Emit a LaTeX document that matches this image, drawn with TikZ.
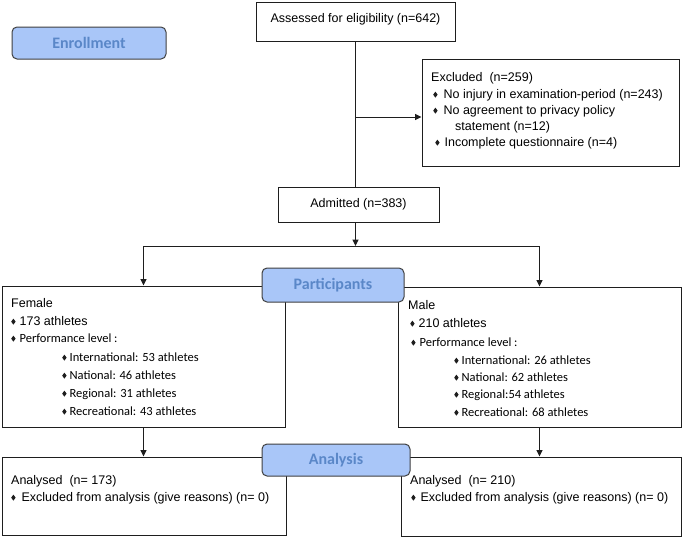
\documentclass[tikz,border=0pt]{standalone}
\usepackage{fontspec}
\setmainfont{Liberation Sans}
\newfontfamily\calfont{Carlito}
\usetikzlibrary{arrows.meta}
\definecolor{lblfill}{HTML}{A9C6F8}
\definecolor{lbltext}{HTML}{5A87C8}
\definecolor{lineclr}{HTML}{1E1E1E}
\newcommand\bul{\tikz[baseline=-3.6pt]\fill[lineclr] (0,0)--(2.2pt,3pt)--(4.4pt,0)--(2.2pt,-3pt)--cycle;}
\begin{document}
\begin{tikzpicture}[x=1pt,y=-1pt,
  box/.style={draw=lineclr, line width=1pt, rectangle, inner sep=0pt, fill=white},
  lbl/.style={rounded corners=5pt, draw=black!75, line width=1pt, fill=lblfill, text=lbltext,
    inner sep=0pt, font=\calfont\bfseries\fontsize{16}{18}\selectfont},
  txt/.style={anchor=west, inner sep=0pt, text height=9pt, text depth=2.5pt,
    font=\fontsize{12.5}{15}\selectfont},
  ctxt/.style={txt, font=\calfont\fontsize{12.5}{15}\selectfont},
  arr/.style={draw=lineclr, line width=1pt, -{Triangle[length=6.5pt,width=6pt]}},
  ln/.style={draw=lineclr, line width=1pt}]
\useasboundingbox (0,0) rectangle (685,538);
\fill[white] (0,0) rectangle (685,538);

% boxes
\node[box, minimum width=199pt, minimum height=39pt] (assess) at (355.5,21.5) {};
\node[txt, anchor=center] (assesst) at (355.5,19) {Assessed for eligibility (n=642)};
\node[box, minimum width=257pt, minimum height=107pt] (excl) at (550.5,112.5) {};
\node[box, minimum width=161pt, minimum height=35pt, font=\fontsize{12.5}{15}\selectfont] (admit) at (358.5,204.5) {Admitted (n=383)};
\node[box, minimum width=283pt, minimum height=141pt] (female) at (143.5,356.5) {};
\node[box, minimum width=283pt, minimum height=140pt] (male) at (539.5,357) {};
\node[box, minimum width=284pt, minimum height=78pt] (fana) at (144,496) {};
\node[box, minimum width=280pt, minimum height=79pt] (mana) at (541,496.5) {};

% stage labels
\node[lbl, minimum width=154pt, minimum height=32pt] (enroll) at (89,43) {Enrollment};
\node[lbl, minimum width=142pt, minimum height=34pt] (part) at (333,285) {Participants};
\node[lbl, minimum width=148pt, minimum height=32pt] (anal) at (336,460) {Analysis};

% excluded text
\node[txt] (e1) at (431,78) {Excluded\ \ (n=259)};
\node[txt] (e2) at (433,95) {\bul\hspace{6pt}No injury in examination-period (n=243)};
\node[txt] (e3) at (433,111) {\bul\hspace{6pt}No agreement to privacy policy};
\node[txt] (e4) at (455,127) {statement (n=12)};
\node[txt] (e5) at (435,143) {\bul\hspace{5pt}Incomplete questionnaire (n=4)};

% female text
\node[txt] (f1) at (11,304) {Female};
\node[txt] (f2) at (11,322) {\bul\hspace{4pt}173 athletes};
\node[ctxt] (f3) at (11,339) {\bul\hspace{4pt}Performance level :};
\node[ctxt] (f4) at (62,358) {\bul\hspace{3pt}International: 53 athletes};
\node[ctxt] (f5) at (62,376) {\bul\hspace{3pt}National: 46 athletes};
\node[ctxt] (f6) at (62,394) {\bul\hspace{3pt}Regional: 31 athletes};
\node[ctxt] (f7) at (62,412) {\bul\hspace{3pt}Recreational: 43 athletes};

% male text
\node[txt] (m1) at (408,306) {Male};
\node[txt] (m2) at (410,324) {\bul\hspace{4pt}210 athletes};
\node[ctxt] (m3) at (411,343) {\bul\hspace{4pt}Performance level :};
\node[ctxt] (m4) at (454,361) {\bul\hspace{3pt}International: 26 athletes};
\node[ctxt] (m5) at (454,378) {\bul\hspace{3pt}National: 62 athletes};
\node[ctxt] (m6) at (454,395) {\bul\hspace{3pt}Regional:54 athletes};
\node[ctxt] (m7) at (454,413) {\bul\hspace{3pt}Recreational: 68 athletes};

% analysis text
\node[txt] (a1) at (11,481) {Analysed\ \ (n= 173)};
\node[txt] (a2) at (11,498) {\bul\hspace{6pt}Excluded from analysis (give reasons) (n= 0)};
\node[txt] (a3) at (410,481) {Analysed\ \ (n= 210)};
\node[txt] (a4) at (411,498) {\bul\hspace{5pt}Excluded from analysis (give reasons) (n= 0)};

% connectors
\draw[ln] (assess.south) -- (assess.south |- admit.north);
\coordinate (exbranch) at (assess.south |- 0,117);
\draw[arr] (exbranch) -- (exbranch -| excl.west);
\coordinate (split) at (assess.south |- 0,246);
\draw[arr] (assess.south |- admit.south) -- (split);
\draw[ln] (split) -- (split -| female.north);
\draw[ln] (split) -- (split -| male.north);
\draw[arr] (split -| female.north) -- (female.north);
\draw[arr] (split -| male.north) -- (male.north);
\draw[arr] (female.south) -- (female.south |- fana.north);
\draw[arr] (male.south) -- (male.south |- mana.north);
\end{tikzpicture}
\end{document}
